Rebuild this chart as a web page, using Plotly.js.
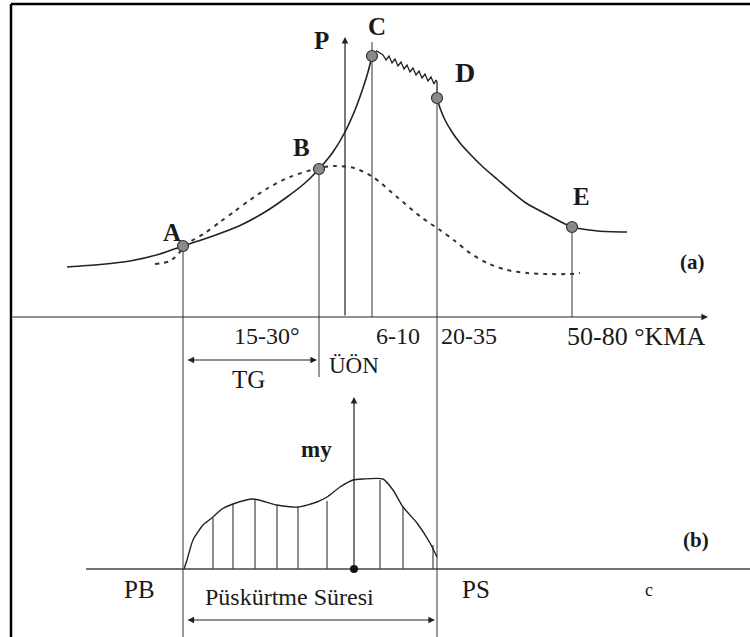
<!DOCTYPE html>
<html>
<head>
<meta charset="utf-8">
<script src="https://cdn.plot.ly/plotly-3.0.1.min.js"></script>
<style>html,body{margin:0;padding:0;background:#fff;}#chart{width:750px;height:637px;}</style>
</head>
<body>
<div id="chart"></div>
<script>
// ---------- DATA (arbitrary crank-angle units on x, pressure units on y) ----------
const pointNames = ['A', 'B', 'C', 'D', 'E'];
const pointX = [183, 319, 372, 437, 572];
const pointP = [71, 148, 261, 219, 90];

// combustion pressure curve: compression rise up to C
const riseX = [67, 100, 130, 160, 183, 210, 239, 265, 287, 305, 319, 333, 345, 355, 363, 368, 372];
const riseP = [50, 52.5, 56, 63, 71, 80, 91, 105, 120, 134, 148, 165, 185, 207, 229, 245, 261];
// uncontrolled combustion C -> D (knocking ripple)
const rippleX = [372, 377, 383, 386, 389, 392, 395, 398, 401, 404, 407, 410, 413, 416, 419, 422, 425, 428, 431, 434, 436, 437, 437];
const rippleP = [263, 266, 262, 257, 261, 254, 258, 251, 255, 248, 252, 245, 249, 242, 246, 239, 243, 236, 240, 233, 237, 235, 224];
// expansion D -> end
const fallX = [437, 440, 445, 452, 460, 469, 483, 498, 512, 526, 548, 572, 598, 627];
const fallP = [219, 209, 197, 185, 174, 164, 150, 137, 125, 114, 102, 90, 86, 85];
// motored (no combustion) pressure curve - dashed
const motoredX = [155, 170, 190, 205, 220, 235, 250, 268, 290, 319, 335, 354, 373, 397, 421, 440, 455, 470, 487, 507, 527, 547, 570, 580];
const motoredP = [53, 56, 75, 84, 95, 106, 117, 129, 140, 149, 151, 149, 140, 120, 100, 87, 76, 64, 54, 47, 44, 43, 43, 44];

// (b) injection rate "my"
const injX = [184, 187, 193, 203, 213, 222, 233, 253, 277, 298, 317, 327, 340, 353, 363, 383, 393, 403, 417, 430, 437];
const injY = [0, 9, 29, 44, 52, 60, 65, 70, 64, 62, 67, 72, 82, 89, 90, 90, 79, 62, 46, 26, 12];
const hatchX = [213, 233, 255, 277, 298, 327, 380, 403, 433];
const hatchY = [51, 65, 70, 64, 62, 68, 89, 62, 24];

const angleLabels = ['15-30°', '6-10', '20-35', '50-80 °KMA'];

// ---------- FIGURE ----------
const ink = '#222';
const thin = '#444';
const serif = 'Liberation Serif, Times New Roman, serif';

// drop lines from the marked points
const dropX = [], dropY = [];
const dropTop = {A: 0, B: 0, C: 14, D: 0, E: 0};
const dropBottom = {A: -320, B: -60, C: 0, D: -320, E: 0};
pointNames.forEach((n, i) => {
  dropX.push(pointX[i], pointX[i], null);
  dropY.push(pointP[i] + dropTop[n], dropBottom[n], null);
});

const traces = [
  {x: dropX, y: dropY, mode: 'lines', line: {color: thin, width: 1.1}, hoverinfo: 'skip'},
  {x: motoredX, y: motoredP, mode: 'lines', line: {color: '#333', width: 2, dash: '4px,5px', shape: 'spline', smoothing: 0.8}},
  {x: riseX, y: riseP, mode: 'lines', line: {color: ink, width: 1.6, shape: 'spline', smoothing: 0.8}},
  {x: rippleX, y: rippleP, mode: 'lines', line: {color: ink, width: 1.3}},
  {x: fallX, y: fallP, mode: 'lines', line: {color: ink, width: 1.6, shape: 'spline', smoothing: 0.7}},
  {x: pointX, y: pointP, mode: 'markers', marker: {size: 11, color: '#8a8a8a', line: {color: '#333', width: 1.2}}},
  // panel (b)
  {x: [86, 750], y: [0, 0], yaxis: 'y2', mode: 'lines', line: {color: thin, width: 1.3}},
  {type: 'bar', x: hatchX, y: hatchY, yaxis: 'y2', width: 1.1, marker: {color: '#333', line: {width: 0}}},
  {x: injX, y: injY, yaxis: 'y2', mode: 'lines', line: {color: ink, width: 1.4, shape: 'spline', smoothing: 0.6}},
  {x: [354], y: [0], yaxis: 'y2', mode: 'markers', marker: {size: 8, color: '#111'}}
];

function txt(t, x, y, size, opts) {
  return Object.assign({text: t, x: x, y: y, xref: 'x', yref: 'y', showarrow: false,
    font: {family: serif, size: size, color: '#1a1a1a'}, xanchor: 'center', yanchor: 'middle'}, opts || {});
}
function arrow(x, y, ax, ay, yref, both) {
  return {text: '', x: x, y: y, ax: ax, ay: ay, xref: 'x', yref: yref, axref: 'x', ayref: yref,
    showarrow: true, arrowhead: 2, arrowsize: 1.1, arrowwidth: 1.2, arrowcolor: '#222',
    arrowside: both ? 'end+start' : 'end', standoff: 0, startstandoff: 0};
}

const labelOffsets = {A: [-11, 14], B: [-18, 22], C: [5, 30], D: [28, 26], E: [9, 31]};
const annotations = [];
pointNames.forEach((n, i) => {
  const o = labelOffsets[n];
  annotations.push(txt('<b>' + n + '</b>', pointX[i] + o[0], pointP[i] + o[1], n === 'D' ? 28 : 25));
});
annotations.push(txt('<b>P</b>', 321, 277, 25));
annotations.push(txt('<b>(a)</b>', 692, 55, 21));
annotations.push(txt('<b>(b)</b>', 696, -223, 21));
annotations.push(txt('<b>my</b>', 316, -132, 23));

const angleX = [302, 398, 469, 636];
const angleAnchor = ['right', 'center', 'center', 'center'];
const angleSize = [24, 24, 24, 26];
angleLabels.forEach((t, i) => annotations.push(txt(t, angleX[i], -19, angleSize[i], {xanchor: angleAnchor[i]})));
annotations.push(txt('TG', 248, -62, 25));
annotations.push(txt('ÜÖN', 327, -48, 23, {xanchor: 'left'}));
annotations.push(txt('PB', 139, -272, 25));
annotations.push(txt('PS', 476, -272, 25));
annotations.push(txt('c', 649, -273, 18));
annotations.push(txt('Püskürtme Süresi', 289, -280, 24));

annotations.push(arrow(708, 0, 11, 0, 'y', false));
annotations.push(arrow(345, 280, 345, 0, 'y', false));
annotations.push(arrow(317, -43, 186, -43, 'y', true));
annotations.push(arrow(354, 172, 354, 0, 'y2', false));
annotations.push(arrow(435, -51, 186, -51, 'y2', true));

const layout = {
  width: 750, height: 637,
  margin: {l: 0, r: 0, t: 0, b: 0, pad: 0},
  paper_bgcolor: '#fff', plot_bgcolor: '#fff',
  showlegend: false,
  barmode: 'overlay',
  xaxis: {range: [0, 750], visible: false, fixedrange: true},
  yaxis: {range: [-320, 317], visible: false, fixedrange: true},
  yaxis2: {range: [-68, 569], overlaying: 'y', visible: false, fixedrange: true},
  shapes: [
    {type: 'line', xref: 'x', yref: 'y', x0: 11, x1: 750, y0: 313, y1: 313, line: {color: '#000', width: 2.5}},
    {type: 'line', xref: 'x', yref: 'y', x0: 11, x1: 11, y0: 313, y1: -320, line: {color: '#000', width: 2.5}}
  ],
  annotations: annotations
};

Plotly.newPlot('chart', traces, layout, {staticPlot: true, displayModeBar: false});
</script>
</body>
</html>
